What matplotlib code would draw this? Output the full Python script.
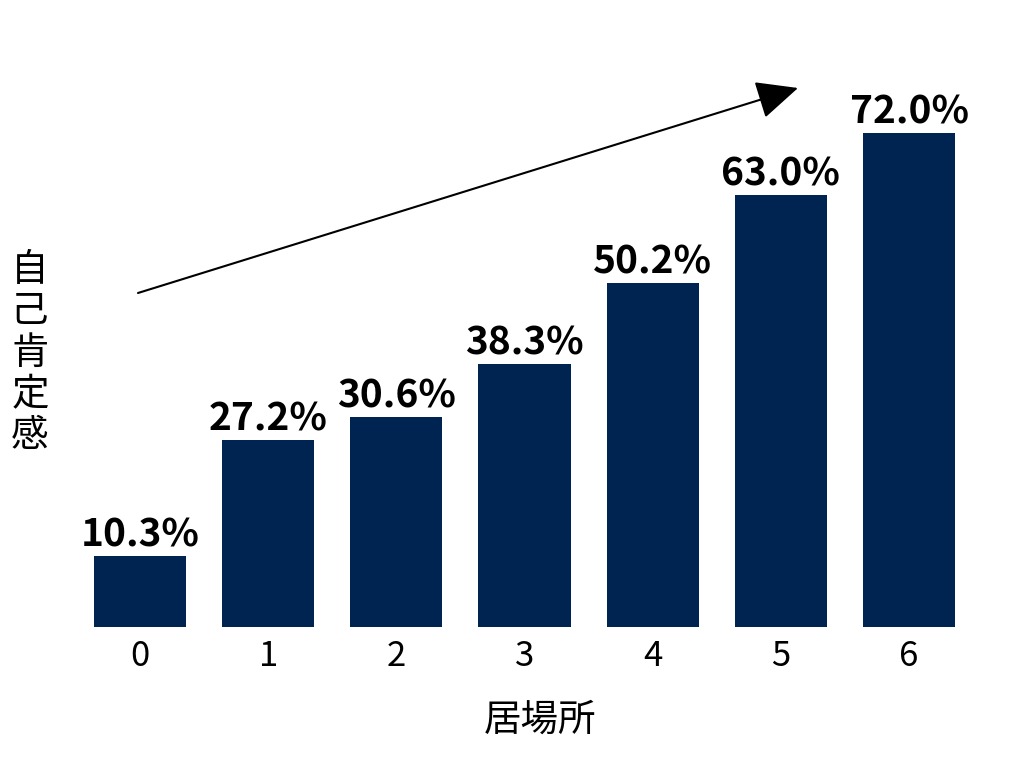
import matplotlib
matplotlib.use("Agg")
import matplotlib.pyplot as plt

plt.rcParams["font.family"] = ["Noto Sans CJK JP", "DejaVu Sans"]

# ── Data ──────────────────────────────────────────────────────────────────
places = ["0", "1", "2", "3", "4", "5", "6"]
rates = [10.3, 27.2, 30.6, 38.3, 50.2, 63.0, 72.0]

BAR_COLOR = "#002452"

fig = plt.figure(figsize=(10.24, 7.68), dpi=100)
ax = fig.add_axes([0.0741, 0.1836, 0.8762, 0.7148])

x = range(len(places))
bars = ax.bar(x, rates, width=0.72, color=BAR_COLOR)

for b, v in zip(bars, rates):
    ax.annotate(f"{v:.1f}%", (b.get_x() + b.get_width() / 2, v),
                xytext=(0, 1), textcoords="offset points",
                ha="center", va="bottom", fontsize=28, fontweight="bold")

ax.set_xlim(-0.5, len(places) - 0.5)
ax.set_ylim(0, 80)
ax.set_xticks(list(x))
ax.set_xticklabels(places, fontsize=25)
ax.tick_params(axis="x", length=0, pad=9)
ax.set_yticks([])
for s in ax.spines.values():
    s.set_visible(False)

# axis titles
fig.text(540 / 1024, 1 - 720 / 768, "居場所", ha="center", va="center", fontsize=27)
fig.text(30 / 1024, 1 - 353 / 768, "\n".join("自己肯定感"),
         ha="center", va="center", fontsize=27, linespacing=1.08)

# trend arrow
fig.add_artist(matplotlib.patches.FancyArrowPatch(
    (138 / 1024, 1 - 293 / 768), (798 / 1024, 1 - 88 / 768),
    transform=fig.transFigure, arrowstyle="-|>,head_length=1.3,head_width=0.6",
    mutation_scale=20, color="black", lw=1.5, shrinkA=0, shrinkB=0))

fig.savefig("out.png", dpi=100)
